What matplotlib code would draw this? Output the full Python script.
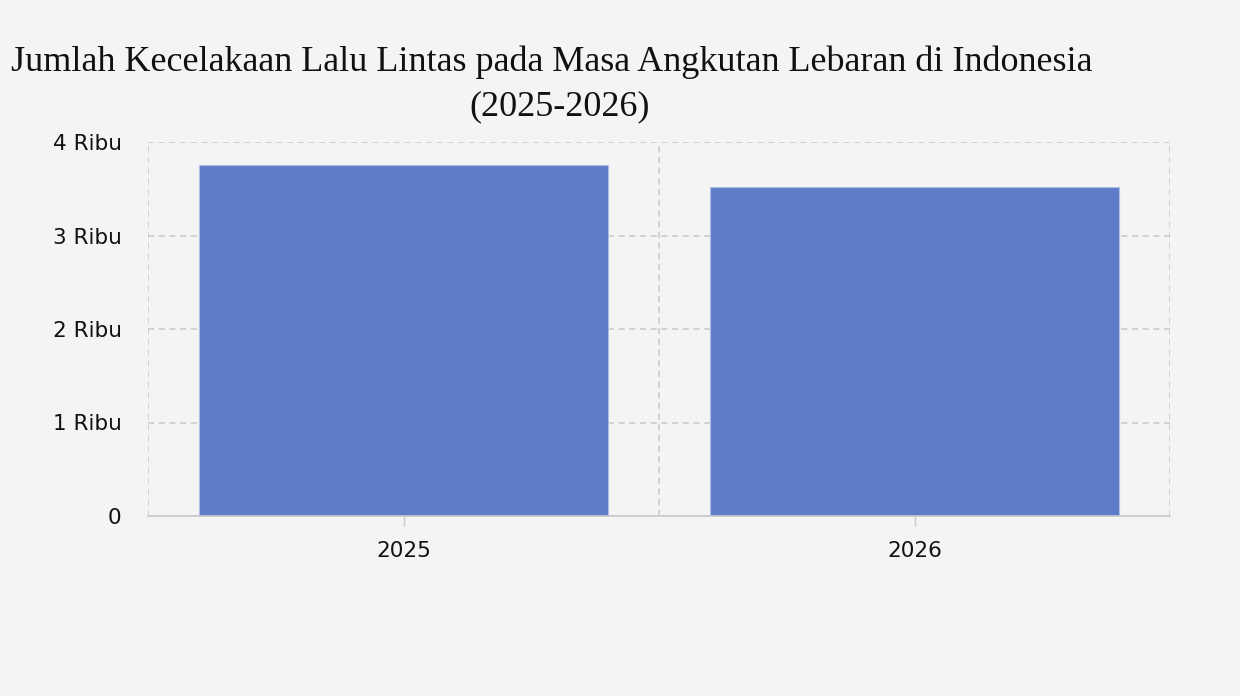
import matplotlib
matplotlib.use('Agg')
import matplotlib.pyplot as plt
from matplotlib.ticker import FuncFormatter

# --- data ---
years = ['2025', '2026']
kecelakaan = [3754, 3516]
y_ticks = [0, 1000, 2000, 3000, 4000]

BG = '#f4f4f4'
BAR = '#5f7cc9'
GRID = '#c8c8c8'

fig = plt.figure(figsize=(12.4, 6.96), dpi=100, facecolor=BG)
ax = fig.add_axes([148 / 1240, 180 / 696, 1022 / 1240, 374 / 696])
ax.set_facecolor(BG)

x = range(len(years))
ax.bar(x, kecelakaan, width=0.8, color=BAR, edgecolor='#aebde6', linewidth=0.8, zorder=3)

ax.set_xlim(-0.5, len(years) - 0.5)
ax.set_ylim(0, 4000)

ax.set_xticks(list(x))
ax.set_xticklabels(years)
ax.set_xticks([i - 0.5 for i in range(len(years) + 1)], minor=True)
ax.set_yticks(y_ticks)
ax.yaxis.set_major_formatter(FuncFormatter(lambda v, p: '0' if v == 0 else f'{int(v / 1000)} Ribu'))

ax.grid(True, axis='y', which='major', color=GRID, linestyle=(0, (4, 3)), linewidth=1.1, zorder=0)
ax.grid(True, axis='x', which='minor', color=GRID, linestyle=(0, (4, 3)), linewidth=1.1, zorder=0)
ax.grid(False, axis='x', which='major')

for s in ['top', 'right', 'left']:
    ax.spines[s].set_visible(False)
ax.spines['bottom'].set_color(GRID)
ax.spines['bottom'].set_linewidth(1.2)
ax.spines['bottom'].set_zorder(4)

ax.tick_params(axis='y', length=0, pad=19, labelsize=15.5, labelcolor='#111111')
ax.tick_params(axis='x', which='major', length=7, width=1, color=GRID, pad=11,
               labelsize=15.5, labelcolor='#111111')
ax.tick_params(axis='x', which='minor', length=0)

title_font = dict(family='Liberation Serif', fontsize=26, color='#111111', ha='center', va='center')
fig.text(552 / 1240, 1 - 62 / 696,
         'Jumlah Kecelakaan Lalu Lintas pada Masa Angkutan Lebaran di Indonesia', **title_font)
fig.text(560 / 1240, 1 - 107 / 696, '(2025-2026)', **title_font)

fig.savefig('out.png', dpi=100, facecolor=BG)
